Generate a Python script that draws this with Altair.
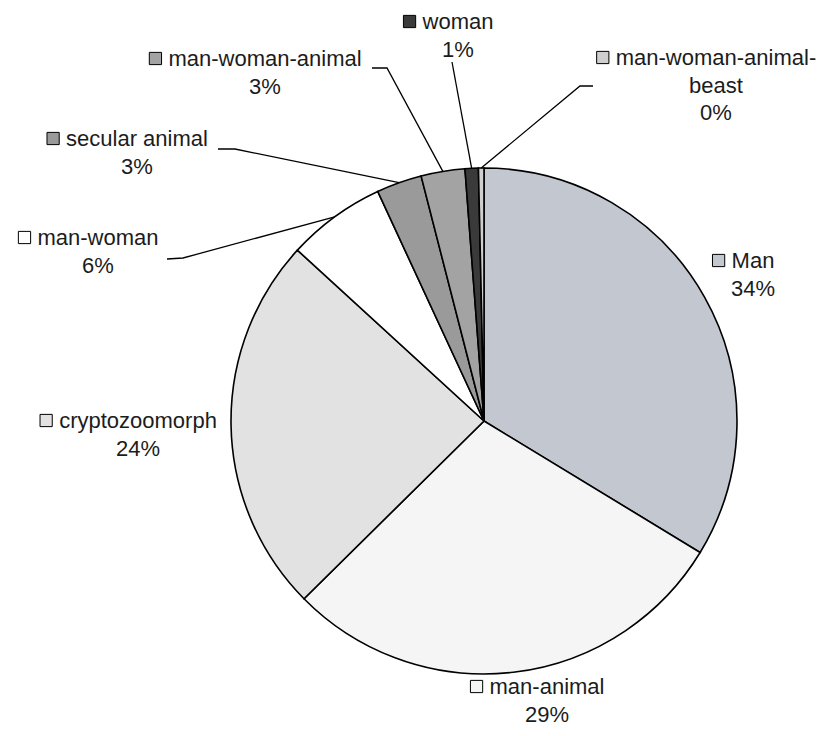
import math
import altair as alt
import pandas as pd

# ---- data ----
categories = ["Man", "man-animal", "cryptozoomorph", "man-woman", "secular animal",
              "man-woman-animal", "woman", "man-woman-animal-beast"]
values = [33.7, 28.9, 24.2, 6.3, 2.9, 2.8, 0.85, 0.35]
label_lines = [["Man"], ["man-animal"], ["cryptozoomorph"], ["man-woman"], ["secular animal"],
               ["man-woman-animal"], ["woman"], ["man-woman-animal-", "beast"]]
fills = ["#c3c7cf", "#f5f5f5", "#e2e2e2", "#ffffff", "#9a9a9a", "#a3a3a3", "#3a3a3a", "#cfcfcf"]

# ---- layout (page pixels) ----
PIE_CX, PIE_CY, PIE_R = 484, 421, 253
W, H, M = 810, 720, 8
FONT = "Liberation Sans, Arial, sans-serif"
FS = 22
LINE_H = 27.5
# label centre x and first baseline y
label_pos = {
    "Man": (753, 268),
    "man-animal": (547, 694),
    "cryptozoomorph": (138, 428),
    "man-woman": (98, 245),
    "secular animal": (137, 146),
    "man-woman-animal": (265, 66),
    "woman": (458, 29),
    "man-woman-animal-beast": (716, 65),
}
leader_elbows = {
    "man-woman": [(167, 259), (183, 258)],
    "secular animal": [(218, 149), (235, 149)],
    "man-woman-animal": [(372, 68), (387, 68)],
    "woman": [(452, 62)],
    "man-woman-animal-beast": [(593, 86), (580, 86)],
}

AW = {"a": 556, "b": 556, "c": 500, "d": 556, "e": 556, "f": 278, "g": 556, "h": 556, "i": 222,
      "j": 222, "k": 500, "l": 222, "m": 833, "n": 556, "o": 556, "p": 556, "q": 556, "r": 333,
      "s": 500, "t": 278, "u": 556, "v": 500, "w": 722, "x": 500, "y": 500, "z": 500, "-": 333,
      " ": 278, "M": 833, "%": 889}


def text_w(s):
    return sum(AW.get(ch, 556) for ch in s) / 1000 * FS


total = sum(values)
pie_rows, text_rows, key_rows, line_rows = [], [], [], []
cum = 0.0
for i, (cat, v, lines, f) in enumerate(zip(categories, values, label_lines, fills)):
    pie_rows.append({"cat": cat, "value": v, "order": i, "fill": f, "cx": PIE_CX, "cy": PIE_CY})
    mid = (cum + v / 2) / total * 2 * math.pi
    cum += v
    lx, ly = label_pos[cat]
    all_lines = lines + [f"{round(v)}%"]
    for j, t in enumerate(all_lines):
        text_rows.append({"x": lx, "y": ly + j * LINE_H, "t": t})
    left = lx - text_w(all_lines[0]) / 2
    key_rows.append({"x": left - 13, "y": ly - 7.5, "fill": f})
    if cat in leader_elbows:
        pts = leader_elbows[cat] + [(PIE_CX + PIE_R * math.sin(mid), PIE_CY - PIE_R * math.cos(mid))]
        for k, (px, py) in enumerate(pts):
            line_rows.append({"cat": cat, "k": k, "x": px, "y": py})

xs = alt.Scale(domain=[M, M + W], range=[0, W], nice=False, zero=False)
ys = alt.Scale(domain=[M, M + H], range=[0, H], nice=False, zero=False)

pie = alt.Chart(pd.DataFrame(pie_rows)).mark_arc(
    radius=PIE_R, stroke="black", strokeWidth=1.6
).encode(
    theta=alt.Theta("value:Q", stack=True),
    order=alt.Order("order:Q"),
    fill=alt.Fill("fill:N", scale=None),
    x=alt.X("cx:Q", scale=xs, axis=None),
    y=alt.Y("cy:Q", scale=ys, axis=None),
)

leaders = alt.Chart(pd.DataFrame(line_rows)).mark_line(
    color="black", strokeWidth=1.3
).encode(
    x=alt.X("x:Q", scale=xs, axis=None),
    y=alt.Y("y:Q", scale=ys, axis=None),
    detail="cat:N",
    order="k:Q",
)

keys = alt.Chart(pd.DataFrame(key_rows)).mark_square(
    size=150, stroke="black", strokeWidth=1, opacity=1
).encode(
    x=alt.X("x:Q", scale=xs, axis=None),
    y=alt.Y("y:Q", scale=ys, axis=None),
    fill=alt.Fill("fill:N", scale=None),
)

texts = alt.Chart(pd.DataFrame(text_rows)).mark_text(
    font=FONT, fontSize=FS, align="center", baseline="alphabetic", color="#1c1c1c"
).encode(
    x=alt.X("x:Q", scale=xs, axis=None),
    y=alt.Y("y:Q", scale=ys, axis=None),
    text="t:N",
)

chart = alt.layer(pie, leaders, keys, texts).properties(
    width=W, height=H, padding=0, autosize=alt.AutoSizeParams(type="none")
).configure_view(stroke=None)

chart.save("out.html", embed_options={"renderer": "svg", "actions": False})
